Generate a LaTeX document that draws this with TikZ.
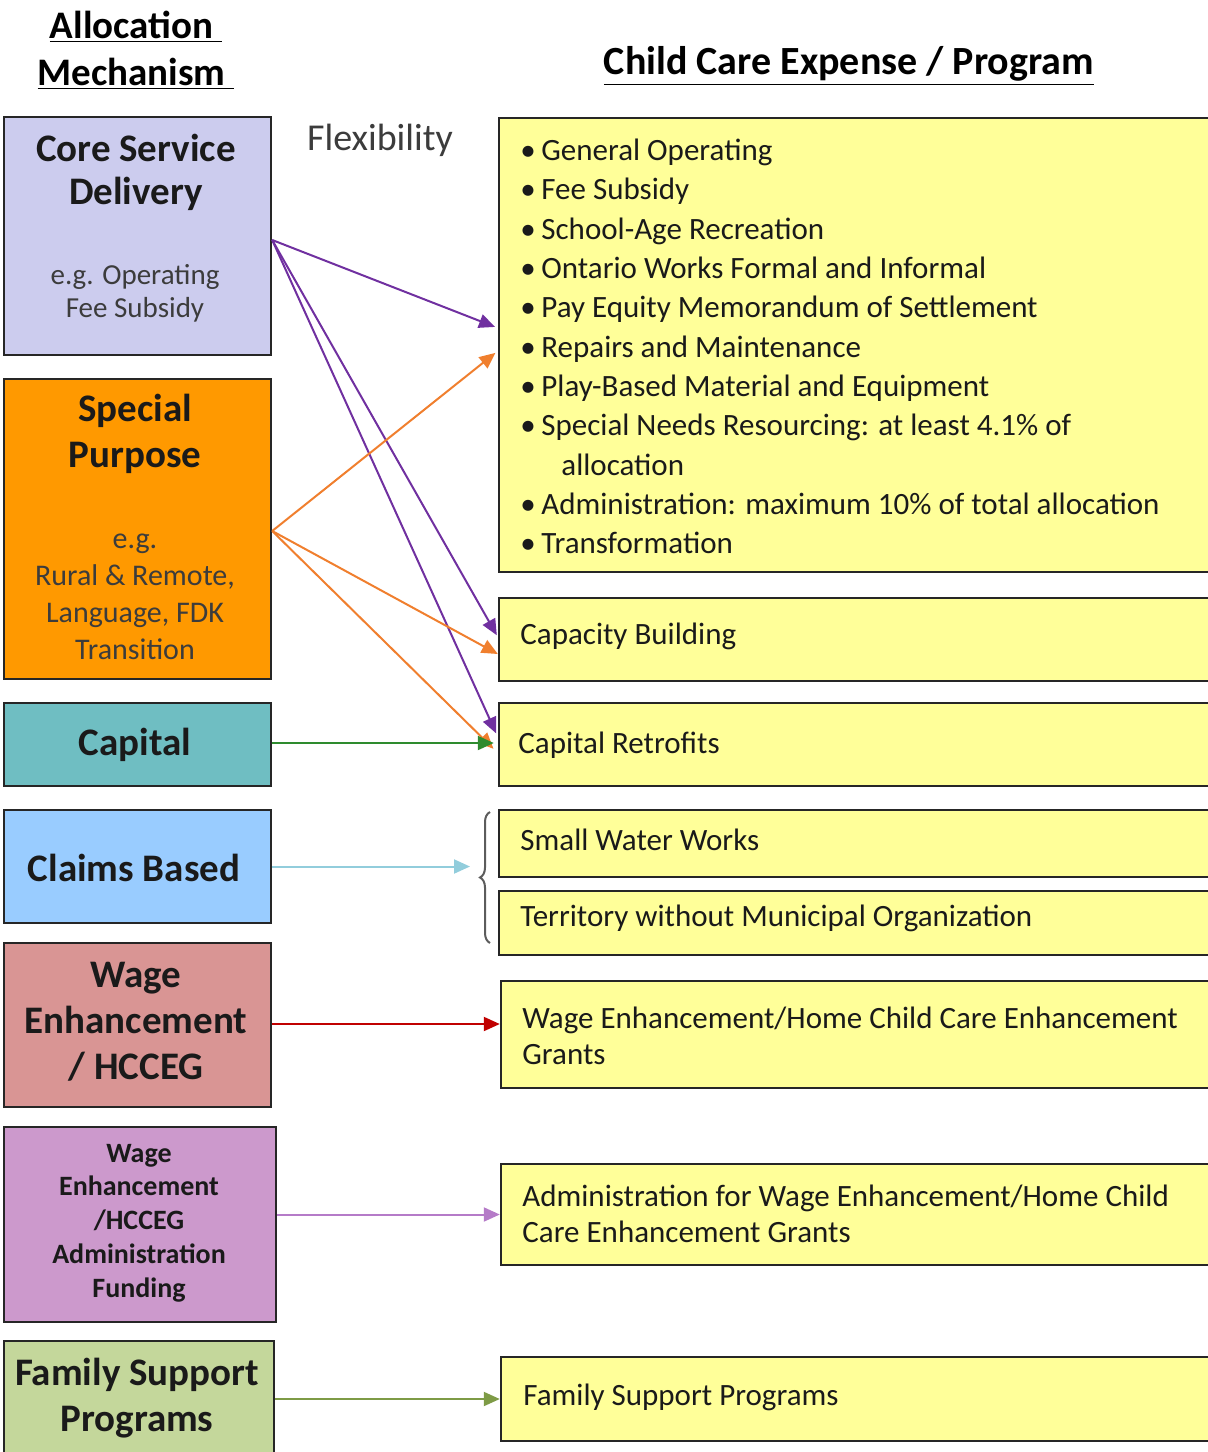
\documentclass[tikz,border=0pt]{standalone}
\usepackage{fontspec}
\setmainfont{Carlito}
\usetikzlibrary{arrows.meta,decorations.pathreplacing,calc}
\definecolor{bordc}{HTML}{262626}
\definecolor{txt}{HTML}{1A1A1A}
\definecolor{yel}{HTML}{FFFF99}
\definecolor{lav}{HTML}{CCCCEE}
\definecolor{org}{HTML}{FF9900}
\definecolor{teal}{HTML}{6FBEC2}
\definecolor{lblue}{HTML}{99CCFF}
\definecolor{salmon}{HTML}{D99594}
\definecolor{orchid}{HTML}{CC99CC}
\definecolor{olive}{HTML}{C4D79B}
\definecolor{apurple}{HTML}{7030A0}
\definecolor{aorange}{HTML}{F07F2E}
\definecolor{agreen}{HTML}{2E8B2E}
\definecolor{ablue}{HTML}{92CDDC}
\definecolor{ared}{HTML}{C00000}
\definecolor{aorchid}{HTML}{B57BC8}
\definecolor{aolive}{HTML}{7E9B46}
\begin{document}
\begin{tikzpicture}[x=0.5pt,y=-0.5pt,
  lbox/.style={draw=bordc, line width=1.2pt, minimum width=133.5pt, inner sep=0pt},
  rbox/.style={draw=bordc, fill=yel, line width=1.2pt, minimum width=365.5pt, inner sep=0pt},
  ttl/.style={font=\fontsize{19.5}{23}\selectfont\bfseries, align=center, text=txt, inner sep=0pt},
  sub/.style={font=\fontsize{14.5}{16.5}\selectfont, align=center, text=txt!85, inner sep=0pt},
  rtxt/.style={font=\fontsize{15.5}{18}\selectfont, align=left, anchor=west, text=txt, inner sep=0pt},
  conn/.style={line width=1pt, -{Triangle[length=8pt,width=7pt]}},
]
\useasboundingbox (0,0) rectangle (1207,1452);

% headings
\node[font=\fontsize{19.5}{23.5}\selectfont\bfseries, align=center, inner sep=0pt] (hleft) at (136,50)
  {\underline{Allocation\ }\\\underline{Mechanism\ }};
\node[font=\fontsize{20}{23.5}\selectfont\bfseries, inner sep=0pt] (hright) at (849,66)
  {\underline{Child Care Expense / Program}};
\node[font=\fontsize{19}{23}\selectfont, text=txt!85, inner sep=0pt] (flex) at (380,140) {Flexibility};

% left boxes
\node[lbox, fill=lav, minimum height=119pt] (core) at (137.5,236) {};
\node[ttl, font=\fontsize{19.5}{21.5}\selectfont\bfseries] (coreT) at (136,172) {Core Service\\Delivery};
\node[sub] (coreS) at (135,293) {e.g. Operating\\Fee Subsidy};

\node[lbox, fill=org, minimum height=150pt] (spec) at (137.5,529) {};
\node[ttl] (specT) at (135,434) {Special\\Purpose};
\node[sub, font=\fontsize{15}{18.5}\selectfont] (specS) at (135,597) {e.g.\\Rural \& Remote,\\Language, FDK\\Transition};

\node[lbox, fill=teal, minimum height=41.5pt] (cap) at (137.5,744.5) {};
\node[ttl] (capT) at (135,745) {Capital};

\node[lbox, fill=lblue, minimum height=56.5pt] (claims) at (137.5,866.5) {};
\node[ttl] (claimsT) at (134,868) {Claims Based};

\node[lbox, fill=salmon, minimum height=82pt] (wage) at (137.5,1025) {};
\node[ttl] (wageT) at (136,1022) {Wage\\Enhancement\\/ HCCEG};

\node[lbox, fill=orchid, minimum width=136pt, minimum height=97.5pt] (wadm) at (140,1224.5) {};
\node[ttl, font=\fontsize{14}{16.9}\selectfont\bfseries] (wadmT) at (139,1223) {Wage\\Enhancement\\/HCCEG\\Administration\\Funding};

\node[lbox, fill=olive, minimum width=135pt, minimum height=69.5pt] (fam) at (139,1410.5) {};
\node[ttl] (famT) at (137,1398) {Family Support\\Programs};

% right boxes
\node[rbox, minimum height=227pt] (bul) at (864.5,345) {};
\node[rtxt, font=\fontsize{15.5}{19.65}\selectfont] (bulT) at (520,346.5) {%
\makebox[10.5pt][l]{•}General Operating\\
\makebox[10.5pt][l]{•}Fee Subsidy\\
\makebox[10.5pt][l]{•}School-Age Recreation\\
\makebox[10.5pt][l]{•}Ontario Works Formal and Informal\\
\makebox[10.5pt][l]{•}Pay Equity Memorandum of Settlement\\
\makebox[10.5pt][l]{•}Repairs and Maintenance\\
\makebox[10.5pt][l]{•}Play-Based Material and Equipment\\
\makebox[10.5pt][l]{•}Special Needs Resourcing: at least 4.1\% of\\
\hspace*{20.5pt}allocation\\
\makebox[10.5pt][l]{•}Administration: maximum 10\% of total allocation\\
\makebox[10.5pt][l]{•}Transformation};

\node[rbox, minimum height=41.5pt] (capb) at (864.5,639.5) {};
\node[rtxt] (capbT) at (520,636) {Capacity Building};

\node[rbox, minimum height=41.5pt] (capr) at (864.5,744.5) {};
\node[rtxt] (caprT) at (518,745) {Capital Retrofits};

\node[rbox, minimum height=33.5pt] (sww) at (864.5,843.5) {};
\node[rtxt] (swwT) at (520,840) {Small Water Works};

\node[rbox, minimum height=32pt] (terr) at (864.5,923) {};
\node[rtxt] (terrT) at (520,918) {Territory without Municipal Organization};

\node[rbox, minimum width=364.5pt, minimum height=53.5pt] (rwage) at (865.5,1034.5) {};
\node[rtxt] (rwageT) at (522,1036) {Wage Enhancement/Home Child Care Enhancement\\Grants};

\node[rbox, minimum width=364.5pt, minimum height=50.5pt] (radm) at (865.5,1214.5) {};
\node[rtxt] (radmT) at (522,1213.5) {Administration for Wage Enhancement/Home Child\\Care Enhancement Grants};

\node[rbox, minimum width=364.5pt, minimum height=42pt] (rfam) at (865.5,1399) {};
\node[rtxt] (rfamT) at (523,1397) {Family Support Programs};

% brace
\draw[draw=bordc!75, line width=1pt, decorate, decoration={brace, amplitude=5pt}]
  (490,943) -- (490,812);
\coordinate (bracetip) at (470,866.5);

% connectors
\draw[conn, apurple, shorten >=1.5pt] (core.east |- 0,240) -- (bul.west |- 0,328);
\draw[conn, apurple, shorten >=1pt] (core.east |- 0,240) -- (capb.west |- 0,637);
\draw[conn, apurple, shorten >=2pt] (core.east |- 0,240) -- (capr.west |- 0,737);
\draw[conn, aorange, shorten >=1.5pt] (spec.east |- 0,531) -- (bul.west |- 0,351);
\draw[conn, aorange, shorten >=0pt] (spec.east |- 0,531) -- (capb.west |- 0,654);
\draw[conn, aorange, shorten >=3pt] (spec.east |- 0,531) -- (capr.west |- 0,753);
\draw[conn, agreen, shorten >=2pt] (cap.east |- 0,743) -- (capr.west |- 0,743);
\draw[conn, ablue] (claims.east) -- (bracetip);
\draw[conn, ared] (wage.east |- 0,1024) -- (rwage.west |- 0,1024);
\draw[conn, aorchid] (wadm.east |- radm.west) -- (radm.west);
\draw[conn, aolive] (fam.east |- rfam.west) -- (rfam.west);
\end{tikzpicture}
\end{document}
